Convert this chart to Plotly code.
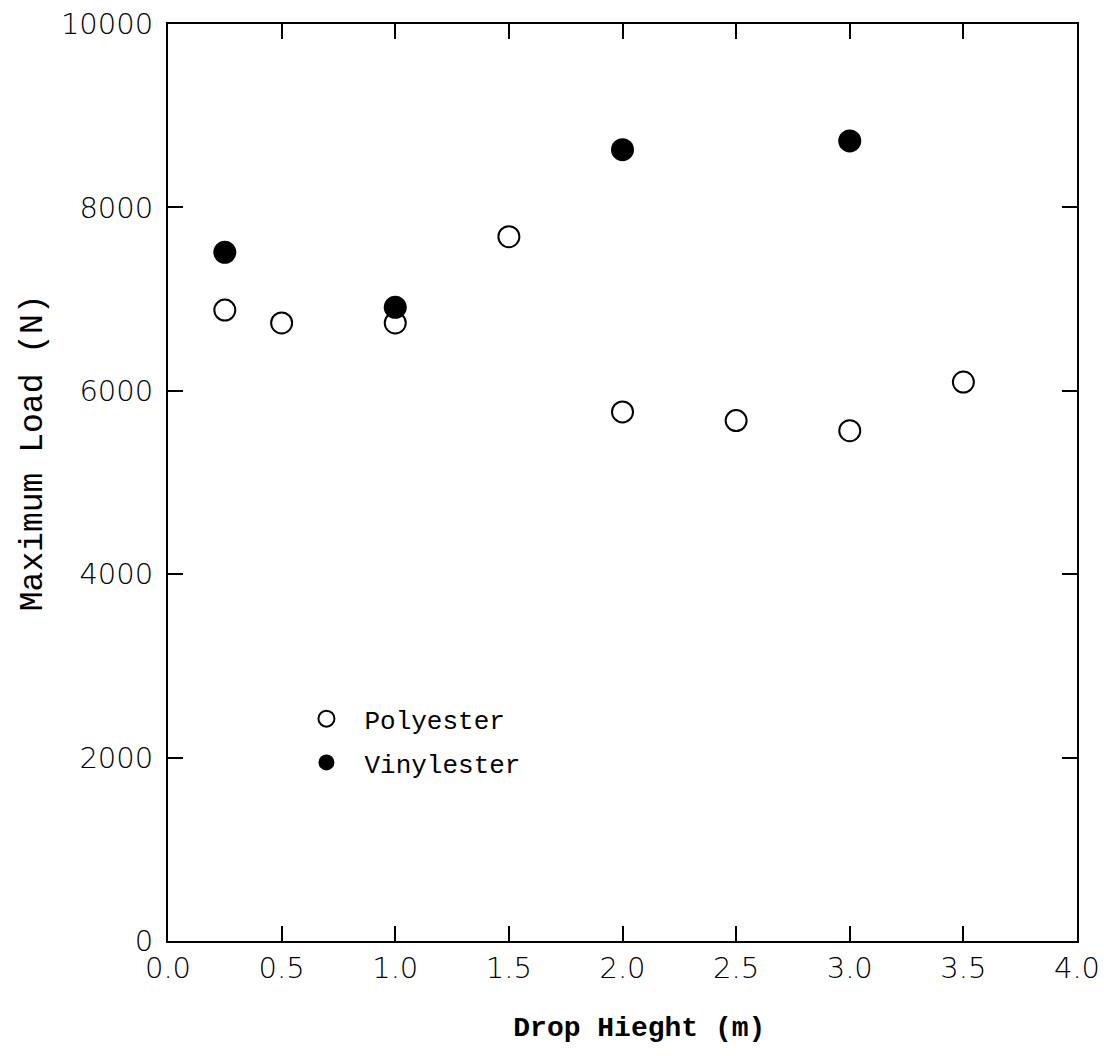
import plotly.graph_objects as go

# Data
poly_height = [0.25, 0.5, 1.0, 1.5, 2.0, 2.5, 3.0, 3.5]
poly_load = [6880, 6740, 6740, 7680, 5770, 5675, 5565, 6095]
vinyl_height = [0.25, 1.0, 2.0, 3.0]
vinyl_load = [7510, 6910, 8630, 8725]

x_ticks = [0.0, 0.5, 1.0, 1.5, 2.0, 2.5, 3.0, 3.5, 4.0]
x_labels = ["0.0", "0.5", "1.0", "1.5", "2.0", "2.5", "3.0", "3.5", "4.0"]
y_ticks = [0, 2000, 4000, 6000, 8000, 10000]
y_labels = ["0", "2000", "4000", "6000", "8000", "10000"]

mono = "Courier New, Liberation Mono, monospace"
tickfont = dict(family="DejaVu Sans", size=29, color="black", weight=200)

fig = go.Figure()
fig.add_trace(go.Scatter(
    x=poly_height, y=poly_load, mode="markers", name="Polyester",
    legendgroup="a",
    marker=dict(symbol="circle", size=21, color="white",
                line=dict(color="black", width=2)),
))
fig.add_trace(go.Scatter(
    x=vinyl_height, y=vinyl_load, mode="markers", name="Vinylester",
    legendgroup="b",
    marker=dict(symbol="circle", size=23, color="black",
                line=dict(color="black", width=0)),
))

axis_common = dict(
    showgrid=False, zeroline=False, showline=True, linecolor="black",
    linewidth=2, mirror="allticks", ticks="inside", ticklen=15,
    tickwidth=2, tickcolor="black", tickfont=tickfont, automargin=False,
)

fig.update_layout(
    width=1104, height=1056,
    margin=dict(l=168, r=27, t=24, b=115),
    paper_bgcolor="white", plot_bgcolor="white",
    showlegend=True,
    legend=dict(
        x=0.1325, y=0.268, xanchor="left", yanchor="top",
        font=dict(family=mono, size=26, color="black"),
        bgcolor="rgba(0,0,0,0)", tracegroupgap=7,
        itemsizing="trace", itemwidth=66,
    ),
    xaxis=dict(
        range=[0, 4], tickvals=x_ticks, ticktext=x_labels,
        title=dict(text="&nbsp;&nbsp;<b>Drop Hieght (m)</b>",
                   font=dict(family=mono, size=28, color="black"),
                   standoff=33),
        **axis_common,
    ),
    yaxis=dict(
        range=[0, 10000], tickvals=y_ticks, ticktext=y_labels,
        ticklabelstandoff=7,
        title=dict(text="&nbsp;&nbsp;&nbsp;Maximum Load (N)",
                   font=dict(family=mono, size=33, color="black"),
                   standoff=8),
        **axis_common,
    ),
)

fig.write_html("out.html", config={"displayModeBar": False},
               post_script="document.body.style.margin='0';")
